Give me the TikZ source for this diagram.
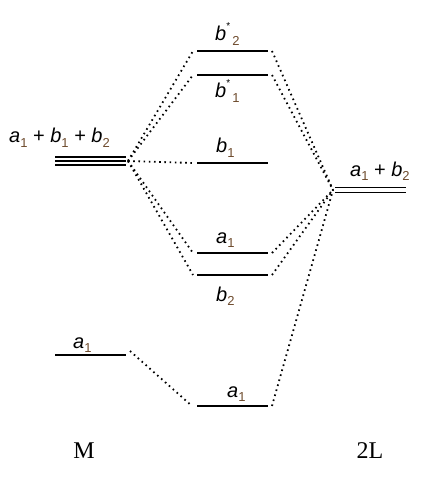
\documentclass[tikz,border=0pt]{standalone}
\usepackage{fontspec}
\setmainfont{Liberation Serif}
\newfontfamily\labfont{Liberation Sans}
\definecolor{subcol}{RGB}{110,75,45}
\newcommand\sublab[1]{\raisebox{-0.4ex}{\fontsize{13}{13}\selectfont\upshape\color{subcol}#1}}
\newcommand\lv[2]{\textit{#1}\sublab{#2}}
\newcommand\lvs[2]{\textit{#1}\raisebox{1.05ex}{\fontsize{10}{10}\selectfont *}\sublab{\,#2}}
\begin{document}
\begin{tikzpicture}[x=1pt,y=-1pt,
  level/.style={line width=2pt},
  thin level/.style={line width=1.5pt},
  conn/.style={line width=1.8pt, dash pattern=on 1.6pt off 3.6pt},
  lab/.style={font=\labfont\fontsize{20}{20}\selectfont, inner sep=0pt, anchor=base},
  ser/.style={font=\fontsize{24}{24}\selectfont, inner sep=0pt, anchor=base}]
\useasboundingbox (0,0) rectangle (429,478);
% M levels
\coordinate (mL) at (55,161); \coordinate (mR) at (126,161);
\draw[thin level] (55,157) -- (126,157);
\draw[thin level] (mL) -- (mR);
\draw[thin level] (55,165) -- (126,165);
\coordinate (maL) at (55,355); \coordinate (maR) at (126,355);
\draw[level] (maL) -- (maR);
% centre levels
\foreach \n/\y in {bs2/51, bs1/75, b1/163, a1/253, b2/275, ab/406}{
  \coordinate (\n L) at (197,\y); \coordinate (\n R) at (268,\y);
  \draw[level] (\n L) -- (\n R);
}
% 2L levels
\coordinate (lL) at (335,190); \coordinate (lR) at (406,190);
\draw[thin level] (335,187.5) -- (406,187.5);
\draw[thin level] (335,192.5) -- (406,192.5);
% labels
\node[lab, anchor=base west] (tM) at (9,143) {\lv{a}{1} + \lv{b}{1} + \lv{b}{2}};
\node[lab, anchor=base west] (tL) at (350,176) {\lv{a}{1} + \lv{b}{2}};
\node[lab, anchor=base west] (tbs2) at (215,41) {\lvs{b}{2}};
\node[lab, anchor=base west] (tbs1) at (215,98) {\lvs{b}{1}};
\node[lab, anchor=base west] (tb1) at (216,153) {\lv{b}{1}};
\node[lab, anchor=base west] (ta1) at (216,243) {\lv{a}{1}};
\node[lab, anchor=base west] (tb2) at (216,301) {\lv{b}{2}};
\node[lab, anchor=base west] (tab) at (227,397) {\lv{a}{1}};
\node[lab, anchor=base west] (tma) at (73,348) {\lv{a}{1}};
\node[ser] (M) at (84,458) {M};
\node[ser] (L2) at (370,458) {2L};
% connectors
\coordinate (ms) at (128,161);
\coordinate (ls) at (333,190);
\foreach \n in {bs2, bs1, b1, a1, b2}{
  \draw[conn] (ms) -- ([xshift=-4pt]\n L);
}
\foreach \n in {bs2, bs1, a1, b2, ab}{
  \draw[conn] ([xshift=4pt]\n R) -- (ls);
}
\draw[conn] ([xshift=4pt,yshift=4pt]maR) -- ([xshift=-5pt]abL);
\end{tikzpicture}
\end{document}
